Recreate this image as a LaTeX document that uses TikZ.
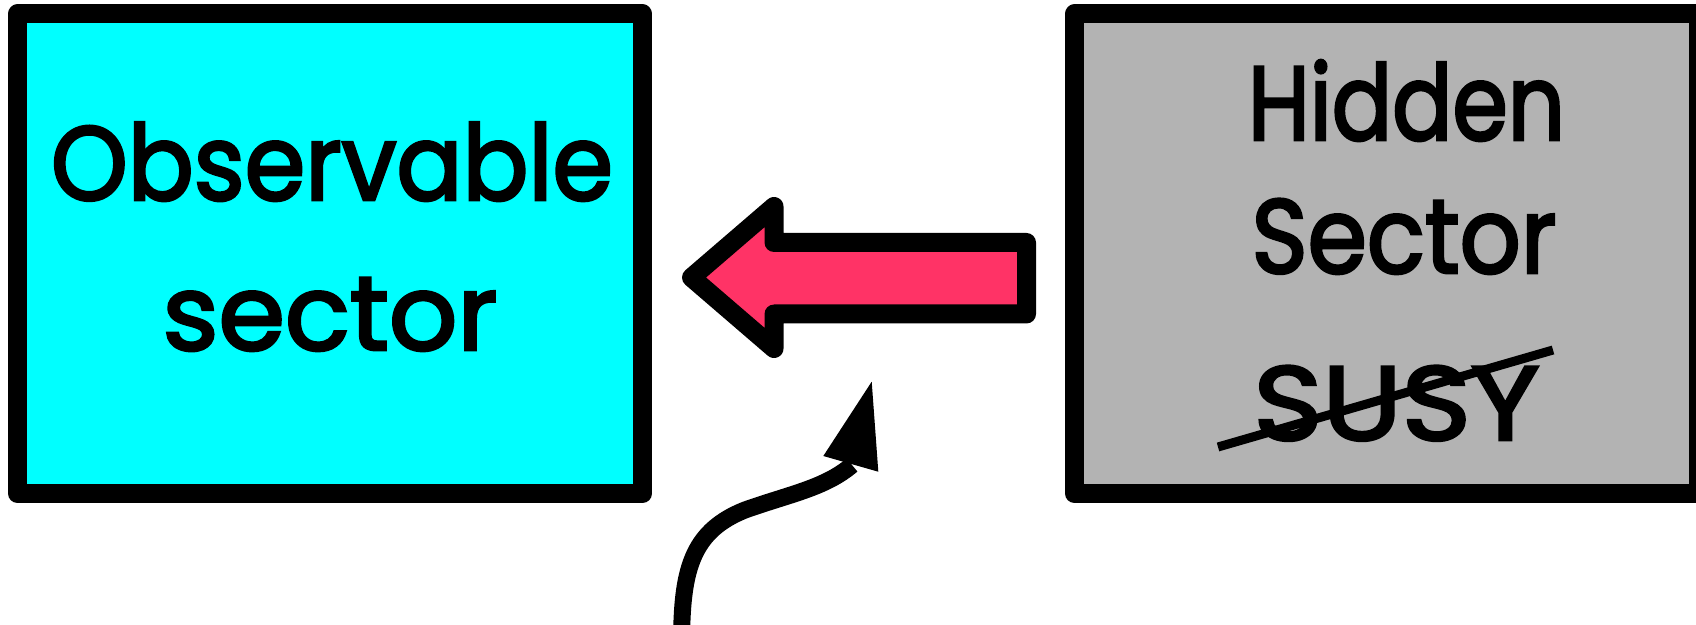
\documentclass[tikz,border=0pt]{standalone}
\usepackage{fontspec}
\usepackage{graphicx}
\newfontface\comicish{Poppins}[FakeBold=2.8]
\definecolor{obscyan}{RGB}{0,255,255}
\definecolor{hidgray}{RGB}{179,179,179}
\definecolor{arrowred}{RGB}{255,51,102}
\newcommand\sqz[2]{\scalebox{#1}[1]{#2}}
\tikzset{
  sectorbox/.style={rectangle, draw=black, line width=9.5pt, line join=round, inner sep=0pt, outer sep=0pt},
  bigtext/.style={anchor=base, inner sep=0pt, font=\comicish\fontsize{52.5}{60}\selectfont},
  shaft/.style={draw=black, line width=8.5pt, line join=round},
}
\begin{document}
\begin{tikzpicture}[x=0.5pt,y=-0.5pt]
\useasboundingbox (0,0) rectangle (1696,625);
\clip (0,0) rectangle (1696,625);
% boxes
\node[sectorbox, fill=obscyan, minimum width=312.5pt, minimum height=239.75pt] (obs) at (330,253.75) {};
\node[sectorbox, fill=hidgray, minimum width=312pt, minimum height=239.75pt] (hid) at (1386.5,253.75) {};
% texts
\node[bigtext] (obsA) at (332,200) {\sqz{0.93}{Observable}};
\node[bigtext] (obsB) at (330,350) {\sqz{1.02}{sector}};
\node[bigtext] (hidA) at (1406.5,140) {\sqz{0.85}{Hidden}};
\node[bigtext] (hidB) at (1404,273) {\sqz{0.91}{Sector}};
\node[bigtext] (susy) at (1396.5,440) {\sqz{1.12}{SUSY}};
% strike-through
\coordinate (s1) at (1218,447);
\coordinate (s2) at (1553,350);
\draw[line width=4.5pt] (s1) -- (s2);
% red arrow
\draw[line width=9.5pt, line join=round, fill=arrowred]
  (1026.5,242.5) -- (774,242.5) -- (774,206.5) -- (691.5,277.5) -- (774,348.5) -- (774,314) -- (1026.5,314) -- cycle;
% curved black arrow
\coordinate (c0) at (681.7,630);
\coordinate (c1) at (745,510);
\coordinate (c2) at (852,465);
\draw[shaft] (c0) .. controls (683,565) and (695,530) .. (c1) .. controls (790,494) and (825,488) .. (c2);
\coordinate (tip) at (871.7,381.7);
\fill[black] (tip) -- (823.3,456) -- (878.3,471.7) -- cycle;
\end{tikzpicture}
\end{document}
